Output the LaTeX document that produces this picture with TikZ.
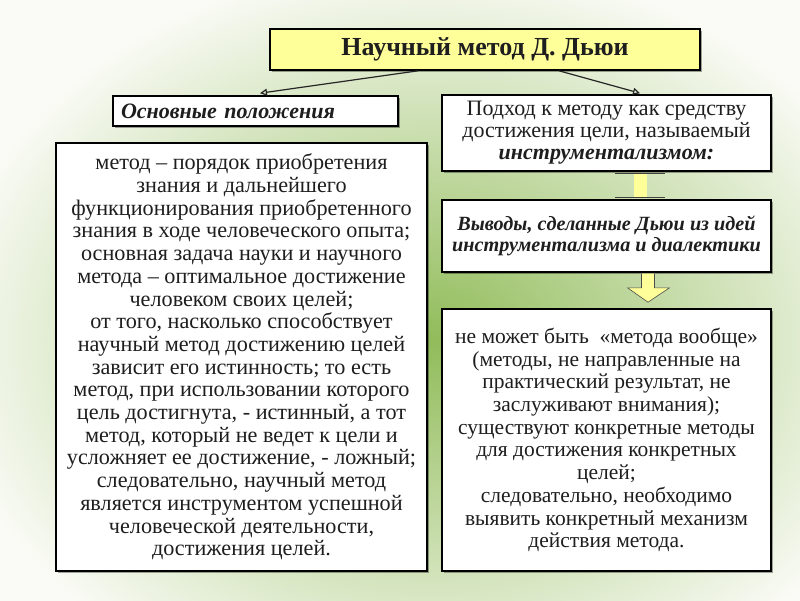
\documentclass[tikz,border=0pt]{standalone}
\usepackage{fontspec}
\setmainfont{Liberation Serif}
\usetikzlibrary{calc,arrows.meta,shadows}
\definecolor{bgin}{RGB}{145,188,90}
\definecolor{bgout}{RGB}{250,251,246}
\definecolor{ttl}{RGB}{255,255,153}
\definecolor{ink}{RGB}{30,30,30}
\tikzset{
  box/.style={draw=black, line width=1.6pt, fill=white, align=center, inner sep=0pt,
    text=ink, drop shadow={shadow xshift=1.5pt, shadow yshift=-1.5pt, fill=black, opacity=0.35}},
  arr/.style={draw=black!85, line width=1.2pt, -{Triangle[open,length=7pt,width=7pt]}},
  ybar/.style={fill=ttl, draw=black!70, line width=0.6pt},
}
\begin{document}
\begin{tikzpicture}[x=1pt,y=-1pt]
\useasboundingbox (0,0) rectangle (800,600);
\begin{scope}
\clip (0,0) rectangle (800,600);
\shade[inner color=bgin, outer color=bgout] (-60,-40) rectangle (920,720);
\end{scope}

% nodes
\node[box, fill=ttl, minimum width=430pt, minimum height=41pt, font=\fontsize{26}{28}\selectfont\bfseries] (title) at (485,49.5) {Научный метод Д. Дьюи};
\node[box, minimum width=285pt, minimum height=30pt, text width=269pt, align=left, font=\fontsize{22}{24}\selectfont\bfseries\itshape] (head) at (255.5,111) {Основные положения};
\node[box, minimum width=371pt, minimum height=428pt, font=\fontsize{22.2}{22.7}\selectfont] (main) at (241.5,357) {метод – порядок приобретения\\знания и дальнейшего\\функционирования приобретенного\\знания в ходе человеческого опыта;\\основная задача науки и научного\\метода – оптимальное достижение\\человеком своих целей;\\от того, насколько способствует\\научный метод достижению целей\\зависит его истинность; то есть\\метод, при использовании которого\\цель достигнута, - истинный, а тот\\метод, который не ведет к цели и\\усложняет ее достижение, - ложный;\\следовательно, научный метод\\является инструментом успешной\\человеческой деятельности,\\достижения целей.};
\node[box, minimum width=329pt, minimum height=76pt, font=\fontsize{22}{22}\selectfont] (appr) at (606.5,133) {Подход к методу как средству\\достижения цели, называемый\\\textbf{\textit{инструментализмом:}}};
\node[box, minimum width=329pt, minimum height=72pt, font=\fontsize{20.2}{21.5}\selectfont\bfseries\itshape] (concl) at (606.5,236) {Выводы, сделанные Дьюи из идей\\инструментализма и диалектики};
\node[box, minimum width=329pt, minimum height=262pt, font=\fontsize{21.5}{22.7}\selectfont] (res) at (606.5,440) {не может быть \ «метода вообще»\\(методы, не направленные на\\практический результат, не\\заслуживают внимания);\\существуют конкретные методы\\для достижения конкретных\\целей;\\следовательно, необходимо\\выявить конкретный механизм\\действия метода.};

% connectors from title
\draw[arr] ($(title.south)+(-67,0)$) -- ($(head.north)+(4.5,-2)$);
\draw[arr] ($(title.south)+(74,0)$) -- ($(appr.north)+(33.5,-1)$);

% yellow bar between appr and concl
\fill[ttl] ($(appr.south)+(27.5,0.8)$) rectangle ($(concl.north)+(40.5,-0.8)$);
\draw[black!75, line width=1.2pt] ($(appr.south)+(8.5,1.8)$) -- ($(appr.south)+(58.5,1.8)$);
\draw[black!75, line width=1.2pt] ($(concl.north)+(8.5,-1.8)$) -- ($(concl.north)+(58.5,-1.8)$);

% yellow down arrow between concl and res
\draw[ybar] ($(concl.south)+(35,0.8)$) -- ($(concl.south)+(35,15)$) -- ($(concl.south)+(21,15)$)
  -- ($(res.north)+(41.5,-6)$) -- ($(concl.south)+(63,15)$) -- ($(concl.south)+(48,15)$)
  -- ($(concl.south)+(48,0.8)$);
\end{tikzpicture}
\end{document}
